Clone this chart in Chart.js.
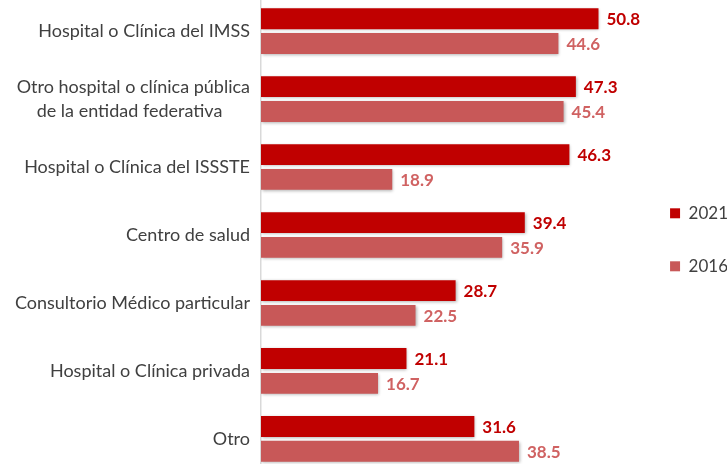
<!DOCTYPE html>
<html>
<head>
<meta charset="utf-8">
<script src="https://cdn.jsdelivr.net/npm/chart.js@4"></script>
<style>
  body { margin: 0; background: #fff; overflow: hidden; }
  #wrap { position: absolute; left: 0; top: -26px; width: 727px; height: 522px; }
</style>
</head>
<body>
<div id="wrap"><canvas id="chart"></canvas></div>
<script>
const categories = [
  "Hospital o Clínica del IMSS",
  ["Otro hospital o clínica pública", "de la entidad federativa      "],
  "Hospital o Clínica del ISSSTE",
  "Centro de salud",
  "Consultorio Médico particular",
  "Hospital o Clínica privada",
  "Otro"
];
const values2021 = [50.8, 47.3, 46.3, 39.4, 28.7, 21.1, 31.6];
const values2016 = [44.6, 45.4, 18.9, 35.9, 22.5, 16.7, 38.5];
const seriesNames = ["2021", "2016"];

const barColors = ["#C00000", "#C85858"];
const labelColors = ["#C00000", "#D06262"];

// axis starts a little left of zero, bars grow from the axis line
const axisMin = -1.4;
const axisMax = 56.3;

// value labels after each bar
const valueLabels = {
  id: "valueLabels",
  afterDatasetsDraw(chart) {
    const ctx = chart.ctx;
    ctx.save();
    ctx.font = "bold 17px Lato";
    ctx.textAlign = "left";
    ctx.textBaseline = "middle";
    chart.data.datasets.forEach((ds, i) => {
      const meta = chart.getDatasetMeta(i);
      meta.data.forEach((bar, j) => {
        ctx.fillStyle = labelColors[i];
        ctx.fillText(ds.data[j].toFixed(1), bar.x + 8, bar.y + 1);
      });
    });
    ctx.restore();
  }
};

// soft shadow under bars
const barShadow = {
  id: "barShadow",
  beforeDatasetsDraw(chart) {
    const ctx = chart.ctx;
    ctx.save();
    ctx.shadowColor = "rgba(0,0,0,0.3)";
    ctx.shadowBlur = 3;
    ctx.shadowOffsetX = 1;
    ctx.shadowOffsetY = 1;
  },
  afterDatasetsDraw(chart) {
    chart.ctx.restore();
  }
};

new Chart(document.getElementById("chart"), {
  type: "bar",
  data: {
    labels: categories,
    datasets: [
      { label: seriesNames[0], data: values2021, backgroundColor: barColors[0], base: axisMin },
      { label: seriesNames[1], data: values2016, backgroundColor: barColors[1], base: axisMin }
    ]
  },
  options: {
    indexAxis: "y",
    responsive: true,
    maintainAspectRatio: false,
    animation: false,
    categoryPercentage: 0.73,
    barPercentage: 0.84,
    layout: { padding: { top: 0, bottom: 0, left: 0, right: -11 } },
    plugins: {
      legend: {
        position: "right",
        title: { display: true, text: "", padding: 0, font: { size: 8 } },
        labels: {
          boxWidth: 10,
          boxHeight: 10,
          padding: 36,
          color: "#404040",
          font: { family: "Lato", size: 17 }
        }
      },
      tooltip: { enabled: false }
    },
    scales: {
      x: { display: false, min: axisMin, max: axisMax },
      y: {
        afterFit(scale) { scale.width = 261; },
        grid: { display: false, drawTicks: false },
        border: { display: true, color: "#D9D9D9", width: 1.5 },
        ticks: {
          padding: 11,
          color: "#404040",
          font: { family: "Lato", size: 18, lineHeight: 1.35 }
        }
      }
    }
  },
  plugins: [barShadow, valueLabels]
});
</script>
</body>
</html>
